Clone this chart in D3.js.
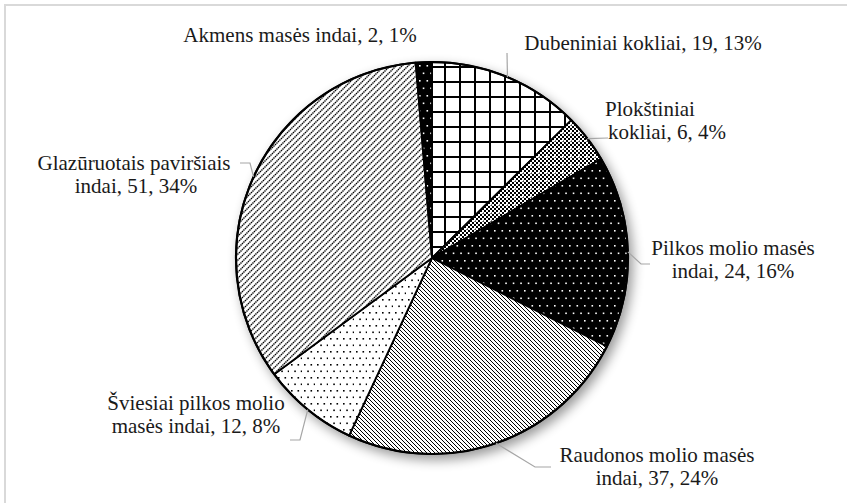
<!DOCTYPE html>
<html><head><meta charset="utf-8">
<script src="https://cdn.jsdelivr.net/npm/d3@7"></script>
<style>body{margin:0;background:#fff}svg{display:block}</style>
</head><body>
<script>
const categories = ["Dubeniniai kokliai","Plokštiniai kokliai","Pilkos molio masės indai","Raudonos molio masės indai","Šviesiai pilkos molio masės indai","Glazūruotais paviršiais indai","Akmens masės indai"];
const values = [19, 6, 24, 37, 12, 51, 2];
const pctLabels = ["13%","4%","16%","24%","8%","34%","1%"];
const labelLine1 = ["Dubeniniai kokliai","Plokštiniai","Pilkos molio masės","Raudonos molio masės","Šviesiai pilkos molio","Glazūruotais paviršiais","Akmens masės indai"];
const labelLine2 = ["","kokliai","indai","indai","masės indai","indai",""];

const W = 847, H = 503;
const cx = 432, cy = 258, R = 196;
// layout: [line1 centre x, line1 baseline y, line2 centre x]
const labelPos = [[643,50,643],[650,116,667],[733,255,733],[657,462,657],[196,410,196],[134,170,136],[300,42,300]];
const leaders = [
  [[507,53]],
  [[608,138]],
  [[641,264],[650,264]],
  [[535,467],[551,467]],
  [[300,440],[290,440]],
  [[250,163],[240,163]],
  null
];

const svg = d3.select("body").append("svg").attr("width", W).attr("height", H);
const defs = svg.append("defs");

const pGrid = defs.append("pattern").attr("id","pGrid").attr("patternUnits","userSpaceOnUse").attr("width",15).attr("height",15).attr("x",cx).attr("y",cy);
pGrid.append("rect").attr("width",15).attr("height",15).attr("fill","#fff");
pGrid.append("rect").attr("x",0).attr("y",0).attr("width",2).attr("height",15).attr("fill","#000");
pGrid.append("rect").attr("x",0).attr("y",0).attr("width",15).attr("height",2).attr("fill","#000");

const pCheck = defs.append("pattern").attr("id","pCheck").attr("patternUnits","userSpaceOnUse").attr("width",8).attr("height",8);
pCheck.append("rect").attr("width",8).attr("height",8).attr("fill","#fff");
for (let i=0;i<4;i++) for (let j=0;j<4;j++) if ((i+j)%2===0) pCheck.append("rect").attr("x",i*2).attr("y",j*2).attr("width",2).attr("height",2).attr("fill","#000");
pCheck.append("rect").attr("x",2).attr("y",2).attr("width",1.5).attr("height",1.5).attr("fill","#fff");

const pBlackDots = defs.append("pattern").attr("id","pBlackDots").attr("patternUnits","userSpaceOnUse").attr("width",15).attr("height",15);
pBlackDots.append("rect").attr("width",15).attr("height",15).attr("fill","#000");
[[2,2],[9.5,2],[5.75,9.5],[13.25,9.5]].forEach(([x,y])=>pBlackDots.append("rect").attr("x",x).attr("y",y).attr("width",1.6).attr("height",1.6).attr("fill","#fff"));

const pBack = defs.append("pattern").attr("id","pBack").attr("patternUnits","userSpaceOnUse").attr("width",4).attr("height",4);
pBack.append("rect").attr("width",4).attr("height",4).attr("fill","#fff");
pBack.append("path").attr("d","M-1,-1L5,5M-1,3L1,5M3,-1L5,1").attr("stroke","#000").attr("stroke-width",1.0);

const pSparse = defs.append("pattern").attr("id","pSparse").attr("patternUnits","userSpaceOnUse").attr("width",13).attr("height",13);
pSparse.append("rect").attr("width",13).attr("height",13).attr("fill","#fff");
[[2,2],[8.5,2],[5.25,8.5],[11.75,8.5]].forEach(([x,y])=>pSparse.append("rect").attr("x",x).attr("y",y).attr("width",1.6).attr("height",1.6).attr("fill","#000"));

const pFwd = defs.append("pattern").attr("id","pFwd").attr("patternUnits","userSpaceOnUse").attr("width",6).attr("height",6);
pFwd.append("rect").attr("width",6).attr("height",6).attr("fill","#fff");
pFwd.append("path").attr("d","M-1,7L7,-1M-1,1L1,-1M5,7L7,5").attr("stroke","#000").attr("stroke-width",1.4).attr("stroke-dasharray","1.4,0.7");

const fills = ["url(#pGrid)","url(#pCheck)","url(#pBlackDots)","url(#pBack)","url(#pSparse)","url(#pFwd)","url(#pBlackDots)"];

const sh = defs.append("filter").attr("id","shadow").attr("x","-20%").attr("y","-20%").attr("width","140%").attr("height","140%");
sh.append("feGaussianBlur").attr("stdDeviation",6);

svg.append("rect").attr("x",5).attr("y",5).attr("width",W+20).attr("height",H+20).attr("fill","none").attr("stroke","#d9d9d9").attr("stroke-width",2);

const data = categories.map((c,i)=>({c, v: values[i], i}));
const pie = d3.pie().sort(null).value(d=>d.v);
const arcs = pie(data);

svg.append("circle").attr("cx",cx+4).attr("cy",cy+5).attr("r",R+1).attr("fill","#000").attr("opacity",0.4).attr("filter","url(#shadow)");
svg.append("circle").attr("cx",cx).attr("cy",cy).attr("r",R).attr("fill","#fff");

// slices in page coordinates so pattern tiles stay in page space
const arcGen = d3.arc().innerRadius(0).outerRadius(R);
svg.append("g").attr("transform",`translate(${cx},${cy})`)
  .selectAll("path").data(arcs).enter().append("path")
  .attr("d",arcGen)
  .attr("fill",d=>fills[d.data.i])
  .attr("stroke","#000").attr("stroke-width",1.8).attr("stroke-linejoin","round");
svg.append("circle").attr("cx",cx).attr("cy",cy).attr("r",R).attr("fill","none").attr("stroke","#000").attr("stroke-width",2.2);

arcs.forEach(d=>{
  const L = leaders[d.data.i];
  if (!L) return;
  const a = (d.startAngle+d.endAngle)/2 - Math.PI/2;
  const pts = [[cx+R*Math.cos(a), cy+R*Math.sin(a)], ...L];
  svg.append("path").attr("d", d3.line()(pts)).attr("fill","none").attr("stroke","#a6a6a6").attr("stroke-width",1.2);
});

arcs.forEach(d=>{
  const i = d.data.i;
  const [x,y,x2] = labelPos[i];
  const t = svg.append("text").attr("x",x).attr("y",y).attr("text-anchor","middle")
    .style("font-family","\"Liberation Serif\"").attr("font-size",21).attr("fill","#1a1a1a");
  const tail = `${values[i]}, ${pctLabels[i]}`;
  if (labelLine2[i]) {
    t.append("tspan").attr("x",x).text(labelLine1[i]);
    t.append("tspan").attr("x",x2).attr("dy",23).text(`${labelLine2[i]}, ${tail}`);
  } else {
    t.text(`${labelLine1[i]}, ${tail}`);
  }
});
</script>
</body></html>
